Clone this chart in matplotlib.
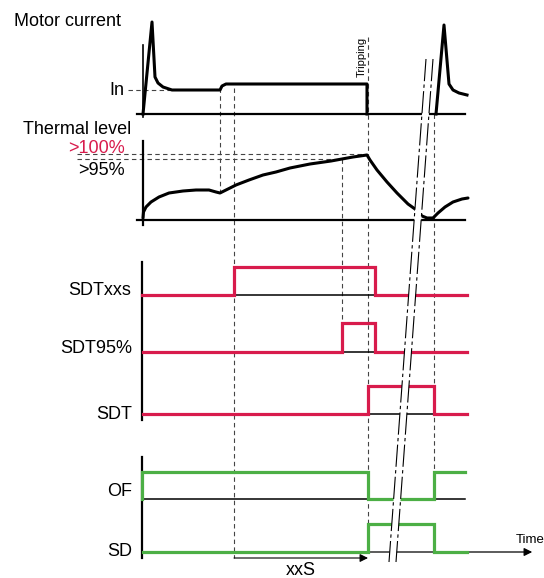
import numpy as np
import matplotlib.pyplot as plt
from matplotlib.patches import Polygon

plt.rcParams['font.family'] = ['Liberation Sans', 'DejaVu Sans']

RED = '#d81b4c'
GREEN = '#4caf45'
DASH = '#444444'

# motor current: heights above the baseline
motor_x = [143, 152, 155, 158, 163, 172, 220, 222, 226, 367, 367]
motor_h = [0, 92, 37, 31, 27, 24, 24, 28, 30, 30, 0]
restart_x = [436, 444, 449, 453, 459, 467]
restart_h = [0, 89, 30, 24, 21, 19]

# thermal level: heights above the baseline
thermal_x = [143, 143.5, 146, 151, 159, 169, 183, 196, 209, 216, 220,
             226, 236, 249, 263, 276, 290, 310, 331, 342, 353, 367,
             370, 377, 387, 397, 403, 408, 415, 422, 427, 433,
             438, 445, 453, 462, 468]
thermal_h = [2, 8, 13, 18, 23, 27, 29, 30, 30, 28, 27,
             30, 35, 40, 45, 48, 52, 56, 59, 61, 63, 65,
             60, 50, 38, 27, 21, 16, 11, 4, 2, 2,
             7, 13, 18, 21, 22]

# logic signals: switching times and levels
sdtxxs_t = [142, 234, 375, 467]
sdtxxs_v = [0, 1, 0]
sdt95_t = [143, 342, 375, 467]
sdt95_v = [0, 1, 0]
sdt_t = [143, 368, 434, 467]
sdt_v = [0, 1, 0]
of_t = [142, 142, 368, 434, 465]
of_v = [0, 1, 0, 1]
sd_t = [143, 368, 434, 467]
sd_v = [0, 1, 0]

fig = plt.figure(figsize=(5.44, 5.78), dpi=100)
ax = fig.add_axes([0, 0, 1, 1])
ax.set_xlim(0, 544)
ax.set_ylim(578, 0)
ax.axis('off')


def step(t, v, base, amp, color):
    y = base - amp * np.array(v + [v[-1]])
    ax.plot(t, y, drawstyle='steps-post', color=color, lw=2.3,
            solid_joinstyle='miter', zorder=3)


def dashed(x0, y0, x1, y1):
    ax.plot([x0, x1], [y0, y1], color=DASH, lw=0.8, dashes=(4, 3), zorder=1)


# motor current panel
ax.plot([137, 465], [114, 114], color='black', lw=1.6, zorder=2)
ax.plot([143, 143], [45, 117], color='black', lw=1.2, zorder=2)
ax.plot(motor_x, 114 - np.array(motor_h), color='black', lw=2.2,
        solid_joinstyle='round', zorder=3)
ax.plot(restart_x, 114 - np.array(restart_h), color='black', lw=2.2,
        solid_joinstyle='round', zorder=3)
dashed(128, 90, 170, 90)
ax.text(124, 95, 'In', fontsize=13, ha='right', va='baseline')
ax.text(14, 26, 'Motor current', fontsize=13, ha='left', va='baseline')
ax.text(362, 57, 'Tripping', fontsize=8, rotation=90, ha='center', va='center')

# thermal level panel
ax.plot([137, 465], [220, 220], color='black', lw=1.6, zorder=2)
ax.plot([143, 143], [141, 225], color='black', lw=1.6, zorder=2)
ax.plot(thermal_x, 220 - np.array(thermal_h), color='black', lw=2.2,
        solid_joinstyle='round', solid_capstyle='round', zorder=3)
dashed(77, 154, 367, 154)
dashed(77, 159, 341, 159)
ax.text(23, 134, 'Thermal level', fontsize=13, ha='left', va='baseline')
ax.text(125, 153, '>100%', fontsize=13, color=RED, ha='right', va='baseline')
ax.text(125, 175, '>95%', fontsize=13, ha='right', va='baseline')

# signal panel
ax.plot([142, 142], [262, 420], color='black', lw=1.6, zorder=2)
ax.plot([234, 375], [295, 295], color='black', lw=1.1, zorder=2)
ax.plot([342, 375], [352, 352], color='black', lw=1.1, zorder=2)
ax.plot([368, 434], [414, 414], color='black', lw=1.1, zorder=2)
step(sdtxxs_t, sdtxxs_v, 295, 28, RED)
step(sdt95_t, sdt95_v, 352, 29, RED)
step(sdt_t, sdt_v, 414, 28, RED)
ax.text(131, 295, 'SDTxxs', fontsize=13, ha='right', va='baseline')
ax.text(132, 353, 'SDT95%', fontsize=13, ha='right', va='baseline')
ax.text(132, 419, 'SDT', fontsize=13, ha='right', va='baseline')

# contacts panel
ax.plot([142, 142], [457, 558], color='black', lw=1.6, zorder=2)
ax.plot([142, 465], [499, 499], color='black', lw=1.1, zorder=2)
ax.annotate('', xy=(535, 552), xytext=(142, 552),
            arrowprops=dict(arrowstyle='-|>', color='black', lw=0.9,
                            mutation_scale=12), zorder=2)
step(of_t, of_v, 499, 27, GREEN)
step(sd_t, sd_v, 552, 28, GREEN)
ax.text(132, 496, 'OF', fontsize=13, ha='right', va='baseline')
ax.text(132, 556, 'SD', fontsize=13, ha='right', va='baseline')
ax.text(516, 543, 'Time', fontsize=9.5, ha='left', va='baseline')
ax.annotate('', xy=(368, 558), xytext=(234, 558),
            arrowprops=dict(arrowstyle='-|>', color='black', lw=0.8,
                            mutation_scale=12, shrinkA=0, shrinkB=0), zorder=2)
ax.text(301, 575, 'xxS', fontsize=13, ha='center', va='baseline')

# vertical event markers
dashed(220, 88, 220, 193)
dashed(234, 88, 234, 558)
dashed(342, 159, 342, 323)
dashed(368, 37, 368, 524)
dashed(434, 114, 434, 472)

# time break
brk_a = [(426, 59), (389, 562)]
brk_b = [(433, 59), (396, 562)]
ax.add_patch(Polygon([brk_a[0], brk_b[0], brk_b[1], brk_a[1]],
                     closed=True, facecolor='white', edgecolor='none', zorder=4))
for (x0, y0), (x1, y1) in (brk_a, brk_b):
    ax.plot([x0, x1], [y0, y1], color='black', lw=0.8,
            dashes=(20, 3, 3, 3), zorder=5)

fig.savefig('out.png', dpi=100)
